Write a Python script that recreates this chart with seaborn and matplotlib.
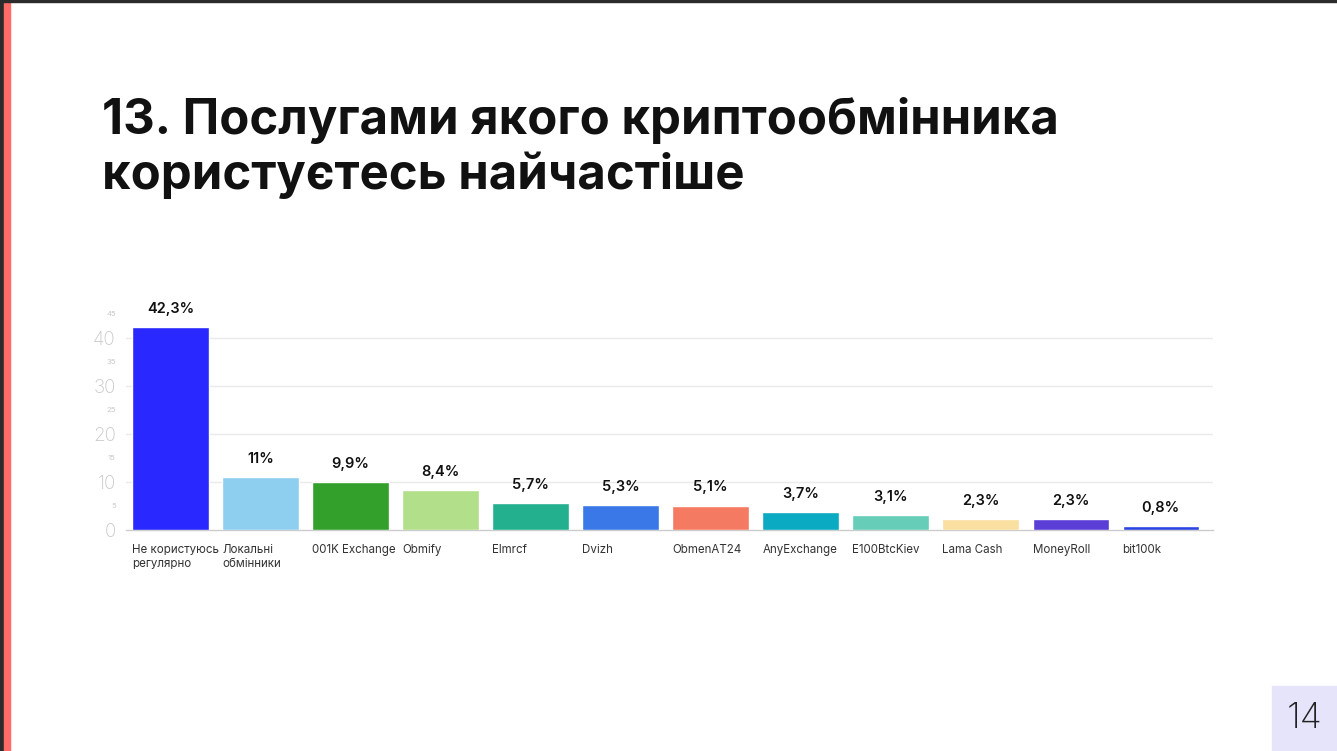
import matplotlib
matplotlib.use("Agg")
import matplotlib.pyplot as plt
import matplotlib.patches as mpatches
import seaborn as sns
import pandas as pd

# дані з діаграми
categories = ["Не користуюсь\nрегулярно", "Локальні\nобмінники", "001K Exchange", "Obmify",
              "Elmrcf", "Dvizh", "ObmenAT24", "AnyExchange", "E100BtcKiev",
              "Lama Cash", "MoneyRoll", "bit100k"]
values = [42.3, 11, 9.9, 8.4, 5.7, 5.3, 5.1, 3.7, 3.1, 2.3, 2.3, 0.8]
value_labels = ["42,3%", "11%", "9,9%", "8,4%", "5,7%", "5,3%", "5,1%", "3,7%", "3,1%",
                "2,3%", "2,3%", "0,8%"]
colors = ["#2828FF", "#8ECFF0", "#33A02C", "#B2DF8A", "#22B08E", "#3B78E7", "#F47A62",
          "#0AAAC2", "#66CDB9", "#F9DFA0", "#5A3ED6", "#2A45E2"]
major_ticks = [0, 10, 20, 30, 40]
minor_ticks = [5, 15, 25, 35, 45]

df = pd.DataFrame({"cat": categories, "val": values})

sns.set_style("white")
plt.rcParams["font.family"] = ["Inter", "DejaVu Sans"]

W, H = 1337, 751
fig = plt.figure(figsize=(W / 100, H / 100), dpi=100)
fig.patch.set_facecolor("white")

# рамка сторінки
fig.add_artist(mpatches.Rectangle((0, 0), 4 / W, 1, transform=fig.transFigure,
                                  color="#2b2b2b", zorder=5))
fig.add_artist(mpatches.Rectangle((4 / W, 0), 6 / W, 1, transform=fig.transFigure,
                                  color="#FF6B66", zorder=5))
fig.add_artist(mpatches.Rectangle((0, 1 - 2 / H), 1, 2 / H, transform=fig.transFigure,
                                  color="#2b2b2b", zorder=5))
fig.add_artist(mpatches.Rectangle((1272 / W, 0), 65 / W, 65 / H, transform=fig.transFigure,
                                  color="#E6E4FB", zorder=5))
fig.text(1305 / W, 32 / H, "14", ha="center", va="center", fontsize=26,
         fontweight="light", color="#222222", zorder=6)

fig.text(102 / W, 1 - 148 / H, "13. Послугами якого криптообмінника\nкористуєтесь найчастіше",
         ha="left", va="center", fontsize=35.3, fontweight="bold", color="#111111",
         linespacing=1.2)

x0, x1, y0, y1 = 125.5, 1213, 530, 314
ax = fig.add_axes([x0 / W, (H - y0) / H, (x1 - x0) / W, (y0 - y1) / H])

sns.barplot(data=df, x="cat", y="val", hue="cat", palette=colors, legend=False,
            width=0.85, saturation=1, ax=ax, zorder=3)

ax.set_ylim(0, 45)
ax.set_xlim(-0.5, 11.58)
ax.set_xlabel("")
ax.set_ylabel("")

for i, (v, lab) in enumerate(zip(values, value_labels)):
    ax.text(i, v + 2.3, lab, ha="center", va="bottom", fontsize=10.5,
            fontweight="semibold", color="#111111")

# осі
ax.set_yticks(major_ticks)
ax.set_yticks(minor_ticks, minor=True)
ax.set_yticklabels([str(t) for t in major_ticks], fontsize=13.5, color="#C8C8C8",
                   fontweight="light")
ax.set_yticklabels([str(t) for t in minor_ticks], minor=True, fontsize=5.5, color="#C8C8C8")
ax.tick_params(axis="y", which="both", length=0, pad=7)
for t in major_ticks[1:]:
    ax.axhline(t, color="#EAEAEA", lw=1, zorder=1)

ax.set_xticks([i - 0.425 for i in range(len(categories))])
ax.set_xticklabels(categories, ha="left", fontsize=8.3, color="#333333", linespacing=1.2)
ax.tick_params(axis="x", length=5, color="#BBBBBB", width=1, pad=5)

for s in ["top", "right", "left"]:
    ax.spines[s].set_visible(False)
ax.spines["bottom"].set_color("#CCCCCC")
ax.spines["bottom"].set_linewidth(1)

fig.savefig("out.png", dpi=100)
